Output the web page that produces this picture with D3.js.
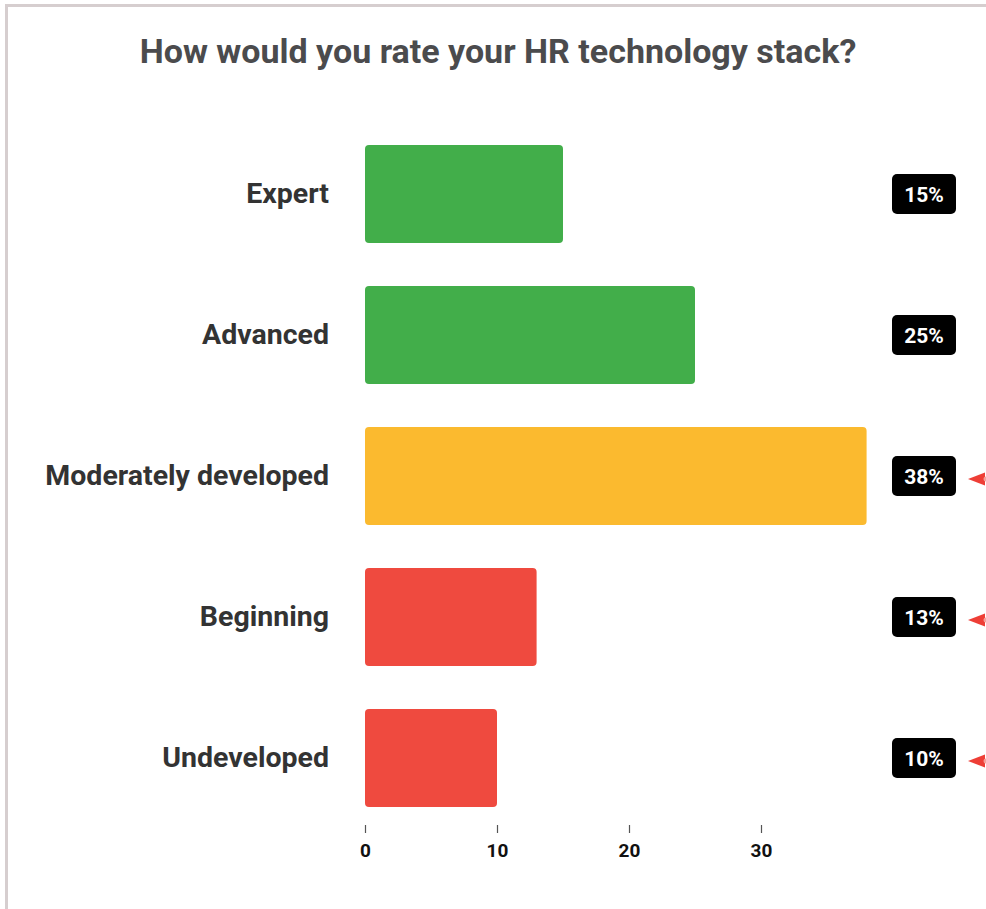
<!DOCTYPE html>
<html>
<head>
<meta charset="utf-8">
<script src="https://cdn.jsdelivr.net/npm/d3@7/dist/d3.min.js"></script>
<style>
  html, body { margin: 0; padding: 0; background: #fff; }
  svg { display: block; font-family: Roboto, "Noto Sans", sans-serif; }
</style>
</head>
<body>
<svg id="chart" width="986" height="909"></svg>
<script>
// Survey answers: rating of the HR technology stack
const categories = ["Expert", "Advanced", "Moderately developed", "Beginning", "Undeveloped"];
const values = [15, 25, 38, 13, 10];
const percentLabels = ["15%", "25%", "38%", "13%", "10%"];
const barColors = ["#42ae4a", "#42ae4a", "#fbba2f", "#ef4a3f", "#ef4a3f"];
const flagged = [false, false, true, true, true];
const xTicks = [0, 10, 20, 30];
const title = "How would you rate your HR technology stack?";

const svg = d3.select("#chart");
const W = 986, H = 909;

// Card frame (left and top edges)
svg.append("line").attr("x1", 6.5).attr("x2", 6.5).attr("y1", 4).attr("y2", H)
  .attr("stroke", "#d6cecf").attr("stroke-width", 3);
svg.append("line").attr("x1", 5).attr("x2", W).attr("y1", 5.5).attr("y2", 5.5)
  .attr("stroke", "#d6cecf").attr("stroke-width", 3);

// Title
svg.append("text")
  .attr("x", 498).attr("y", 63)
  .attr("text-anchor", "middle")
  .attr("font-size", 34).attr("font-weight", 700)
  .attr("fill", "#4b4b4d")
  .text(title);

// Scales
const x = d3.scaleLinear().domain([0, 10]).range([365, 497]);
const y = d3.scaleBand()
  .domain(categories)
  .range([123.5, 828.5])
  .paddingInner(0.305)
  .paddingOuter(0.1525);

const data = categories.map((c, i) => ({
  cat: c, value: values[i], label: percentLabels[i], color: barColors[i], flag: flagged[i]
}));

// Bars
svg.append("g").selectAll("rect")
  .data(data).join("rect")
  .attr("x", x(0))
  .attr("y", d => y(d.cat))
  .attr("width", d => x(d.value) - x(0))
  .attr("height", y.bandwidth())
  .attr("rx", 4).attr("ry", 4)
  .attr("fill", d => d.color);

// Category labels
svg.append("g").selectAll("text")
  .data(data).join("text")
  .attr("x", 329)
  .attr("y", d => y(d.cat) + y.bandwidth() / 2)
  .attr("dy", "0.3em")
  .attr("text-anchor", "end")
  .attr("font-size", 28.5).attr("font-weight", 700)
  .attr("fill", "#333333")
  .text(d => d.cat);

// X axis (ticks and labels only)
const xAxis = d3.axisBottom(x).tickValues(xTicks).tickSize(8).tickPadding(11);
const gx = svg.append("g").attr("transform", "translate(0,825)").call(xAxis);
gx.select(".domain").remove();
gx.selectAll(".tick line").attr("stroke", "#555").attr("stroke-width", 1.2);
gx.selectAll(".tick text")
  .attr("font-family", "Roboto, sans-serif")
  .attr("font-size", 19).attr("font-weight", 700)
  .attr("fill", "#111");

// Value badges
const badges = svg.append("g").selectAll("g")
  .data(data).join("g")
  .attr("transform", d => `translate(924,${y(d.cat) + y.bandwidth() / 2})`);
badges.append("rect")
  .attr("x", -32).attr("y", -20)
  .attr("width", 64).attr("height", 40)
  .attr("rx", 5).attr("ry", 5)
  .attr("fill", "#000");
badges.append("text")
  .attr("text-anchor", "middle")
  .attr("dy", "0.36em")
  .attr("font-size", 21).attr("font-weight", 700)
  .attr("fill", "#fff")
  .text(d => d.label);

// Pointer markers for highlighted rows
const pointers = svg.append("g").selectAll("g")
  .data(data.filter(d => d.flag)).join("g")
  .attr("transform", d => `translate(968,${y(d.cat) + y.bandwidth() / 2 + 3})`);
pointers.append("path")
  .attr("d", "M0,0 L17,-6.5 L17,6.5 Z")
  .attr("fill", "#ee3e36");
pointers.append("circle")
  .attr("cx", 18).attr("cy", 0).attr("r", 2.5)
  .attr("fill", "#f4a09a");
</script>
</body>
</html>
